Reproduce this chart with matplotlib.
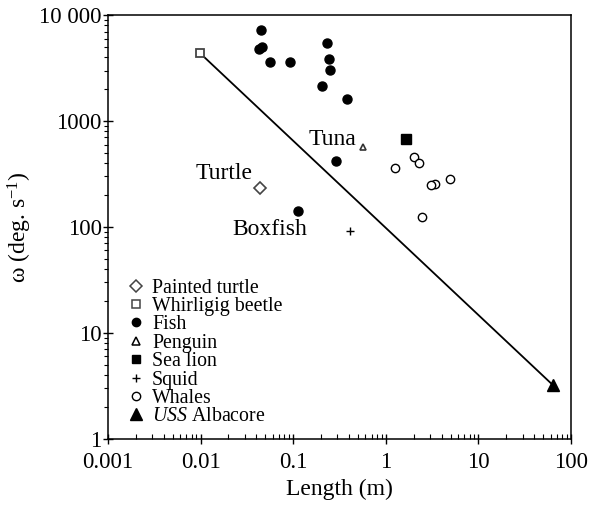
import matplotlib
matplotlib.use('Agg')
import matplotlib.pyplot as plt
from matplotlib.lines import Line2D
from matplotlib.ticker import FixedLocator, FixedFormatter, LogLocator, NullFormatter

plt.rcParams['font.family'] = ['Liberation Serif', 'DejaVu Serif']
plt.rcParams['mathtext.fontset'] = 'custom'
plt.rcParams['mathtext.rm'] = 'Liberation Serif'
plt.rcParams['mathtext.it'] = 'Liberation Serif:italic'

# data (length in m, omega in deg/s)
turtle_x, turtle_y = [0.0435], [233]
beetle_x, beetle_y = [0.0098], [4400]
fish_x = [0.0446, 0.0425, 0.0455, 0.0557, 0.092, 0.231, 0.243, 0.247, 0.204, 0.381, 0.290, 0.112]
fish_y = [7200, 4750, 4950, 3600, 3600, 5450, 3850, 3030, 2140, 1616, 420, 141]
penguin_x, penguin_y = [0.57], [569]
sealion_x, sealion_y = [1.66], [676]
squid_x, squid_y = [0.41], [92]
whale_x = [2.03, 2.30, 1.26, 4.88, 3.43, 3.10, 2.48]
whale_y = [457, 402, 360, 284, 255, 249, 124]
albacore_x, albacore_y = [64], [3.2]

fig = plt.figure(figsize=(5.9, 5.05), dpi=100)
ax = fig.add_axes([0.183, 0.131, 0.785, 0.839])

# fitted line from the beetle to the submarine
ax.plot([beetle_x[0], albacore_x[0]], [beetle_y[0], albacore_y[0]], color='black', lw=1.3, zorder=1)

ax.plot(turtle_x, turtle_y, 'D', ms=6.5, mfc='white', mec='#444444', mew=1.2)
ax.plot(beetle_x, beetle_y, 's', ms=6, mfc='white', mec='#444444', mew=1.3)
ax.plot(fish_x, fish_y, 'o', ms=6.5, color='black')
ax.plot(penguin_x, penguin_y, '^', ms=5, mfc='white', mec='#333333', mew=1.2)
ax.plot(sealion_x, sealion_y, 's', ms=6.5, color='black')
ax.plot(squid_x, squid_y, '+', ms=6, color='black', mew=1)
ax.plot(whale_x, whale_y, 'o', ms=6, mfc='white', mec='black', mew=1)
ax.plot(albacore_x, albacore_y, '^', ms=9, color='black')

ax.text(0.036, 323, 'Turtle', fontsize=17, ha='right', va='center')
ax.text(0.48, 670, 'Tuna', fontsize=17, ha='right', va='center')
ax.text(0.056, 94, 'Boxfish', fontsize=17, ha='center', va='center')

ax.set_xscale('log')
ax.set_yscale('log')
ax.set_xlim(0.001, 100)
ax.set_ylim(1, 10000)

xt = [0.001, 0.01, 0.1, 1, 10, 100]
yt = [1, 10, 100, 1000, 10000]
ax.xaxis.set_major_locator(FixedLocator(xt))
ax.xaxis.set_major_formatter(FixedFormatter(['0.001', '0.01', '0.1', '1', '10', '100']))
ax.yaxis.set_major_locator(FixedLocator(yt))
ax.yaxis.set_major_formatter(FixedFormatter(['1', '10', '100', '1000', '10 000']))
for a in (ax.xaxis, ax.yaxis):
    a.set_minor_locator(LogLocator(base=10, subs=range(2, 10), numticks=20))
    a.set_minor_formatter(NullFormatter())

ax.tick_params(which='major', direction='inout', length=7, width=1, labelsize=16.5)
ax.tick_params(axis='x', which='major', pad=6)
ax.tick_params(axis='y', which='major', pad=1)
ax.tick_params(axis='x', which='minor', direction='in', length=3.5, width=0.8)
ax.tick_params(axis='y', which='minor', direction='out', length=3, width=0.8)
for s in ax.spines.values():
    s.set_linewidth(1.1)

ax.set_xlabel('Length (m)', fontsize=17, labelpad=4)
ax.set_ylabel(r'ω (deg. s$^{-1}$)', fontsize=17, labelpad=4)

handles = [
    Line2D([], [], ls='none', marker='D', ms=6, mfc='white', mec='#444444', mew=1.1),
    Line2D([], [], ls='none', marker='s', ms=5.5, mfc='white', mec='#444444', mew=1.1),
    Line2D([], [], ls='none', marker='o', ms=6, color='black'),
    Line2D([], [], ls='none', marker='^', ms=5.5, mfc='white', mec='black', mew=1.1),
    Line2D([], [], ls='none', marker='s', ms=6, color='black'),
    Line2D([], [], ls='none', marker='+', ms=6, color='black', mew=1),
    Line2D([], [], ls='none', marker='o', ms=6, mfc='white', mec='black', mew=1),
    Line2D([], [], ls='none', marker='^', ms=8, color='black'),
]
labels = ['Painted turtle', 'Whirligig beetle', 'Fish', 'Penguin', 'Sea lion', 'Squid',
          'Whales', r'$\it{USS}$ Albacore']
ax.legend(handles, labels, loc='lower left', bbox_to_anchor=(0.005, -0.008), frameon=False,
          fontsize=14.3, handlelength=1.0, handletextpad=0.3, labelspacing=-0.03,
          borderpad=0.3, borderaxespad=0.5)

fig.savefig('out.png', dpi=100)
